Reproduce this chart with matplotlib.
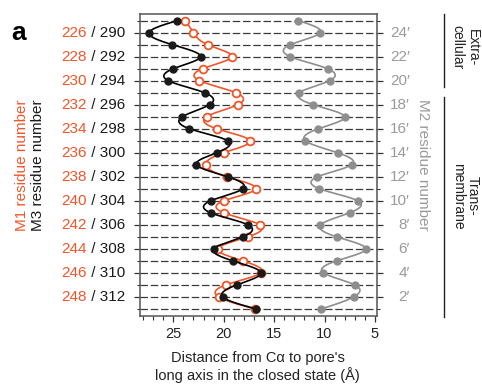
import numpy as np
import matplotlib
matplotlib.use("Agg")
import matplotlib.pyplot as plt
import matplotlib.transforms as mtransforms

plt.rcParams["font.family"] = ["Liberation Sans", "DejaVu Sans"]

# M1 residue number of each row (top to bottom); M3 = M1 + 64
rows = np.arange(225, 250)

# distance from C-alpha to the pore axis (Angstrom)
m3_dist = [24.6, 27.4, 25.1, 22.3, 25.0, 25.5, 21.9, 21.4, 24.1, 23.4, 19.6, 20.7,
           22.7, 19.6, 18.1, 21.3, 21.3, 17.6, 18.1, 21.0, 19.1, 16.3, 18.7, 20.1, 16.8]
m1_dist = [23.8, 23.0, 21.6, 19.2, 22.1, 22.4, 18.8, 18.6, 21.7, 20.7, 17.4, 20.0,
           21.8, 19.7, 16.8, 20.0, 20.0, 16.4, 17.6, 20.6, 18.1, 16.3, 19.8, 20.5, 16.9]
m2_dist = [12.6, 10.4, 13.4, 13.4, 9.7, 9.5, 12.5, 11.1, 8.0, 10.6, 11.9, 8.7,
           7.3, 10.7, 10.5, 6.7, 7.5, 10.4, 8.8, 5.9, 8.8, 10.1, 7.0, 7.1, 10.3]

label_rows = np.arange(226, 249, 2)
m1_labels = ["226", "228", "230", "232", "234", "236", "238", "240", "242", "244", "246", "248"]
m3_labels = ["290", "292", "294", "296", "298", "300", "302", "304", "306", "308", "310", "312"]
m2_labels = ["24\u2032", "22\u2032", "20\u2032", "18\u2032", "16\u2032", "14\u2032",
             "12\u2032", "10\u2032", "8\u2032", "6\u2032", "4\u2032", "2\u2032"]

ORANGE = "#f0562a"
GREY = "#8e8e8e"
GREY_TXT = "#9a9a9a"


def smooth(y, x, n=20):
    # natural cubic spline through the points, x as a function of y
    y = np.asarray(y, float)
    x = np.asarray(x, float)
    k = len(y)
    h = np.diff(y)
    A = np.zeros((k, k))
    rhs = np.zeros(k)
    A[0, 0] = A[-1, -1] = 1
    for i in range(1, k - 1):
        A[i, i - 1] = h[i - 1]
        A[i, i] = 2 * (h[i - 1] + h[i])
        A[i, i + 1] = h[i]
        rhs[i] = 6 * ((x[i + 1] - x[i]) / h[i] - (x[i] - x[i - 1]) / h[i - 1])
    M = np.linalg.solve(A, rhs)
    ys, xs = [], []
    for i in range(k - 1):
        t = np.linspace(0, h[i], n, endpoint=False)
        a = y[i + 1] - y[i] - t
        b = t
        seg = (M[i] * a**3 + M[i + 1] * b**3) / (6 * h[i]) \
            + (x[i] / h[i] - M[i] * h[i] / 6) * a \
            + (x[i + 1] / h[i] - M[i + 1] * h[i] / 6) * b
        xs.append(seg)
        ys.append(y[i] + t)
    ys.append([y[-1]])
    xs.append([x[-1]])
    return np.concatenate(ys), np.concatenate(xs)


fig = plt.figure(figsize=(4.82, 3.85), dpi=100)
ax = fig.add_axes([0.2905, 0.179, 0.4915, 0.7846])

for r in rows:
    ax.axhline(r, color="#3a3a3a", lw=0.9, dashes=(6, 2.2), zorder=1)

yy, xx = smooth(rows, m2_dist)
ax.plot(xx, yy, color=GREY, lw=1.2, zorder=2)
ax.plot(m2_dist, rows, "o", color=GREY, ms=5, zorder=3)

yy, xx = smooth(rows, m1_dist)
ax.plot(xx, yy, color=ORANGE, lw=1.2, zorder=3)
ax.plot(m1_dist, rows, "o", mfc="white", mec=ORANGE, mew=1.3, ms=5.6, zorder=4)

yy, xx = smooth(rows, m3_dist)
ax.plot(xx, yy, color="black", lw=1.2, zorder=5)
ax.plot(m3_dist, rows, "o", color="#1a1a1a", ms=5, zorder=6)

ax.set_xlim(28.3, 4.8)
ax.set_ylim(249.6, 224.45)

ax.set_xticks([25, 20, 15, 10, 5])
ax.set_xticks(np.arange(5, 29), minor=True)
ax.set_yticks(label_rows)
ax.set_yticks(rows[::2], minor=True)
ax.set_yticklabels([])
ax.tick_params(axis="x", which="major", direction="out", length=4, width=0.9,
               labelsize=10.5, pad=4, colors="#333333", labelcolor="#222222")
ax.tick_params(axis="x", which="minor", direction="out", length=3, width=0.8, colors="#333333")
ax.tick_params(axis="y", which="major", direction="out", length=4, width=0.9,
               left=True, right=True, colors="#333333")
ax.tick_params(axis="y", which="minor", direction="out", length=2.5, width=0.8,
               left=True, right=True, colors="#333333")
for s in ax.spines.values():
    s.set_color("#555555")
    s.set_linewidth(1.1)

trans = mtransforms.blended_transform_factory(ax.transAxes, ax.transData)

for r, a, b, c in zip(label_rows, m1_labels, m3_labels, m2_labels):
    t = ax.text(-0.063, r, " / " + b, transform=trans, ha="right", va="center",
                fontsize=11, color="#1a1a1a")
    ax.annotate(a, xy=(0, 0.5), xycoords=t, ha="right", va="center",
                fontsize=11, color=ORANGE)
    ax.text(1.139, r, c, transform=trans, ha="right", va="center",
            fontsize=11, color=GREY_TXT)

fig.text(0.046, 0.571, "M1 residue number", rotation=90, ha="center", va="center",
         fontsize=11, color=ORANGE)
fig.text(0.078, 0.571, "M3 residue number", rotation=90, ha="center", va="center",
         fontsize=11, color="#1a1a1a")
fig.text(0.878, 0.571, "M2 residue number", rotation=-90, ha="center", va="center",
         fontsize=11, color=GREY_TXT)

fig.text(0.535, 0.046, "Distance from C\u03b1 to pore's\nlong axis in the closed state (\u00c5)",
         ha="center", va="center", fontsize=10.5, color="#222222", linespacing=1.15)

fig.text(0.038, 0.913, "a", ha="center", va="center", fontsize=19, fontweight="bold")

# region brackets on the right
ax.plot([1.283, 1.283], [224.45, 230.5], transform=trans, color="#222222", lw=1, clip_on=False)
ax.plot([1.283, 1.283], [231.4, 249.7], transform=trans, color="#222222", lw=1, clip_on=False)
fig.text(0.965, 0.877, "Extra-\ncellular", rotation=-90, ha="center", va="center",
         fontsize=10, color="#222222", linespacing=1.1)
fig.text(0.965, 0.491, "Trans-\nmembrane", rotation=-90, ha="center", va="center",
         fontsize=10, color="#222222", linespacing=1.1)

fig.savefig("out.png", dpi=100)
